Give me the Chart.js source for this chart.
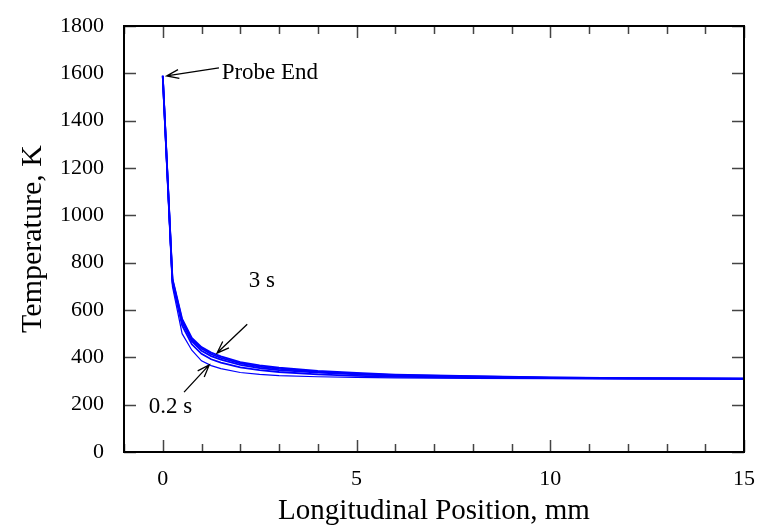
<!DOCTYPE html>
<html>
<head>
<meta charset="utf-8">
<script src="https://cdn.jsdelivr.net/npm/chart.js@4"></script>
<style>
  html, body { margin: 0; padding: 0; background: #fff; }
  #wrap { width: 763px; height: 531px; }
</style>
</head>
<body>
<div id="wrap"><canvas id="chart" width="763" height="531"></canvas></div>
<script>
// longitudinal position, mm
const positions = [0, 0.25, 0.5, 0.75, 1, 1.25, 1.5, 2, 2.5, 3, 4, 5, 6, 8, 10, 12, 15];

// temperature profiles, K, at each time
const temp02s = [1585, 700, 500, 430, 385, 365, 352, 336, 328, 323, 318, 315, 313, 311, 310, 309, 309];
const temp05s = [1588, 715, 535, 455, 415, 392, 378, 358, 346, 338, 328, 322, 318, 314, 312, 310, 309];
const temp1s  = [1589, 722, 548, 468, 428, 405, 390, 368, 355, 346, 335, 328, 322, 317, 313, 311, 310];
const temp2s  = [1590, 728, 556, 476, 437, 413, 398, 375, 361, 351, 339, 331, 325, 319, 314, 312, 310];
const temp3s  = [1591, 732, 562, 482, 443, 420, 404, 380, 366, 356, 343, 334, 327, 320, 315, 312, 310];

const xTickValues = [0, 5, 10, 15];
const yTickValues = [0, 200, 400, 600, 800, 1000, 1200, 1400, 1600, 1800];

const serif = "'Liberation Serif', 'Times New Roman', serif";

const toPoints = (ys) => positions.map((x, i) => ({ x: x, y: ys[i] }));

const series = [
    { label: "0.2 s", data: temp02s, width: 1.2 },
    { label: "0.5 s", data: temp05s, width: 1.8 },
    { label: "1 s", data: temp1s, width: 1.8 },
    { label: "2 s", data: temp2s, width: 1.8 },
    { label: "3 s", data: temp3s, width: 1.8 },
];

function arrow(ctx, x1, y1, x2, y2) {
    // line from tail (x1,y1) to tip (x2,y2) with open head
    const ang = Math.atan2(y2 - y1, x2 - x1);
    const len = 13;
    ctx.beginPath();
    ctx.moveTo(x1, y1);
    ctx.lineTo(x2, y2);
    ctx.moveTo(x2 - len * Math.cos(ang - 0.35), y2 - len * Math.sin(ang - 0.35));
    ctx.lineTo(x2, y2);
    ctx.lineTo(x2 - len * Math.cos(ang + 0.35), y2 - len * Math.sin(ang + 0.35));
    ctx.stroke();
}

const framePlugin = {
    id: "frame",
    afterDraw(chart) {
        const { ctx, chartArea: a, scales } = chart;
        const xs = scales.x, ys = scales.y;
        ctx.save();

        // inward ticks
        ctx.strokeStyle = "#444";
        ctx.lineWidth = 1.5;
        ctx.beginPath();
        for (let v = -1; v <= 15; v++) {
            const px = Math.round(xs.getPixelForValue(v)) + 0.5;
            const l = v % 5 === 0 ? 12 : 8;
            ctx.moveTo(px, a.bottom); ctx.lineTo(px, a.bottom - l);
            ctx.moveTo(px, a.top); ctx.lineTo(px, a.top + l);
        }
        yTickValues.forEach((v) => {
            const py = Math.round(ys.getPixelForValue(v)) + 0.5;
            ctx.moveTo(a.left, py); ctx.lineTo(a.left + 12, py);
            ctx.moveTo(a.right, py); ctx.lineTo(a.right - 12, py);
        });
        ctx.stroke();

        // frame
        ctx.strokeStyle = "#000";
        ctx.lineWidth = 2;
        ctx.strokeRect(a.left, a.top, a.right - a.left, a.bottom - a.top);

        // annotations
        ctx.strokeStyle = "#000";
        ctx.lineWidth = 1.3;
        ctx.fillStyle = "#000";
        ctx.font = "23px " + serif;
        ctx.textBaseline = "middle";

        arrow(ctx, xs.getPixelForValue(1.45), ys.getPixelForValue(1623),
                   xs.getPixelForValue(0.1), ys.getPixelForValue(1589));
        ctx.textAlign = "left";
        ctx.fillText("Probe End", xs.getPixelForValue(1.52), ys.getPixelForValue(1602));

        arrow(ctx, xs.getPixelForValue(2.18), ys.getPixelForValue(540),
                   xs.getPixelForValue(1.4), ys.getPixelForValue(418));
        ctx.textAlign = "center";
        ctx.fillText("3 s", xs.getPixelForValue(2.56), ys.getPixelForValue(722));

        arrow(ctx, xs.getPixelForValue(0.55), ys.getPixelForValue(253),
                   xs.getPixelForValue(1.2), ys.getPixelForValue(368));
        ctx.fillText("0.2 s", xs.getPixelForValue(0.2), ys.getPixelForValue(190));

        ctx.restore();
    }
};

new Chart(document.getElementById("chart"), {
    type: "line",
    data: {
        datasets: series.map((s) => ({
            label: s.label,
            data: toPoints(s.data),
            borderColor: "#0000ff",
            borderWidth: s.width,
            pointRadius: 0,
            tension: 0,
            fill: false,
        })),
    },
    options: {
        responsive: false,
        animation: false,
        events: [],
        layout: { padding: { top: 26, right: 19, left: 0, bottom: 0 } },
        plugins: { legend: { display: false }, tooltip: { enabled: false } },
        scales: {
            x: {
                type: "linear",
                min: -1,
                max: 15,
                grid: { display: false },
                border: { display: false },
                afterBuildTicks(scale) {
                    scale.ticks = xTickValues.map((v) => ({ value: v }));
                },
                afterFit(scale) { scale.height = 79; },
                ticks: {
                    color: "#000",
                    font: { family: serif, size: 22 },
                    padding: 6,
                    maxRotation: 0,
                    callback: (v) => String(v),
                },
                title: {
                    display: true,
                    text: "Longitudinal Position, mm",
                    color: "#000",
                    font: { family: serif, size: 29 },
                    padding: { top: 0, bottom: 2 },
                },
            },
            y: {
                min: 0,
                max: 1800,
                grid: { display: false },
                border: { display: false },
                afterBuildTicks(scale) {
                    scale.ticks = yTickValues.map((v) => ({ value: v }));
                },
                afterFit(scale) { scale.width = 124; },
                ticks: {
                    color: "#000",
                    font: { family: serif, size: 22 },
                    padding: 12,
                    callback: (v) => String(v),
                },
                title: {
                    display: true,
                    text: "Temperature, K",
                    color: "#000",
                    font: { family: serif, size: 30 },
                    padding: { top: 15, bottom: 0 },
                },
            },
        },
    },
    plugins: [framePlugin],
});
</script>
</body>
</html>
